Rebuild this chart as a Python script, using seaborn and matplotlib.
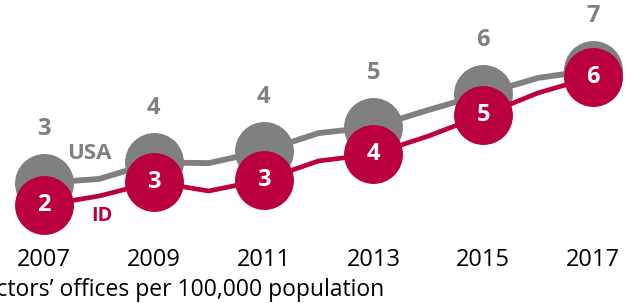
import numpy as np
import pandas as pd
import seaborn as sns
import matplotlib
matplotlib.use('Agg')
import matplotlib.pyplot as plt

# doctors' offices per 100,000 population, yearly values
years = [2007, 2008, 2009, 2010, 2011, 2012, 2013, 2014, 2015, 2016, 2017]
usa = [2.87, 3.0, 3.55, 3.53, 3.93, 4.53, 4.73, 5.3, 5.83, 6.37, 6.63]
idaho = [2.13, 2.43, 2.9, 2.6, 2.97, 3.6, 3.83, 4.43, 5.13, 5.87, 6.4]
tick_years = [2007, 2009, 2011, 2013, 2015, 2017]
caption = 'Doctors\u2019 offices per 100,000 population'

GRAY = '#808080'
RED = '#BA003E'

sns.set_theme(style='white')
plt.rcParams['font.family'] = ['Open Sans', 'DejaVu Sans']

df = pd.DataFrame({'year': years, 'USA': usa, 'ID': idaho})
marks = df[df['year'].isin(tick_years)]

fig = plt.figure(figsize=(6.4, 3.03), dpi=100)
ax = fig.add_axes([0, 0.208, 1, 0.792])

# gray series first, red on top
sns.lineplot(data=df, x='year', y='USA', color=GRAY, lw=4.2, ax=ax, zorder=1)
sns.scatterplot(data=marks, x='year', y='USA', color=GRAY, s=1800, linewidth=0, ax=ax, zorder=2)
sns.lineplot(data=df, x='year', y='ID', color=RED, lw=3.4, ax=ax, zorder=3)
sns.scatterplot(data=marks, x='year', y='ID', color=RED, s=1800, linewidth=0, ax=ax, zorder=4)

for _, r in marks.iterrows():
    ax.annotate(f"{r['USA']:.0f}", (r['year'], r['USA']), xytext=(0, 39),
                textcoords='offset points', ha='center', va='center',
                fontsize=17, fontweight='bold', color=GRAY, zorder=5)
    ax.text(r['year'], r['ID'], f"{r['ID']:.0f}", ha='center', va='center',
            fontsize=17, fontweight='bold', color='white', zorder=5)

# series names next to the 2008 points
ax.annotate('USA', (years[1], usa[1]), xytext=(-7, 18), textcoords='offset points',
            ha='center', va='center', fontsize=16, fontweight='bold', color=GRAY, zorder=5)
ax.annotate('ID', (years[1], idaho[1]), xytext=(2, -14), textcoords='offset points',
            ha='center', va='center', fontsize=14.5, fontweight='bold', color=RED, zorder=5)

ax.set_xlim(2006.199, 2017.856)
ax.set_ylim(0.967, 8.967)
ax.set_xticks(tick_years)
ax.set_xticklabels([str(y) for y in tick_years], fontsize=17, color='black')
ax.tick_params(axis='x', length=0, pad=6)
ax.set_yticks([])
ax.set_xlabel('')
ax.set_ylabel('')
for s in ax.spines.values():
    s.set_visible(False)
ax.patch.set_alpha(0)

fig.text(384 / 640, 1 - 296 / 303, caption, ha='right', va='baseline', fontsize=16.5, color='black')

fig.savefig('out.png', dpi=100)
